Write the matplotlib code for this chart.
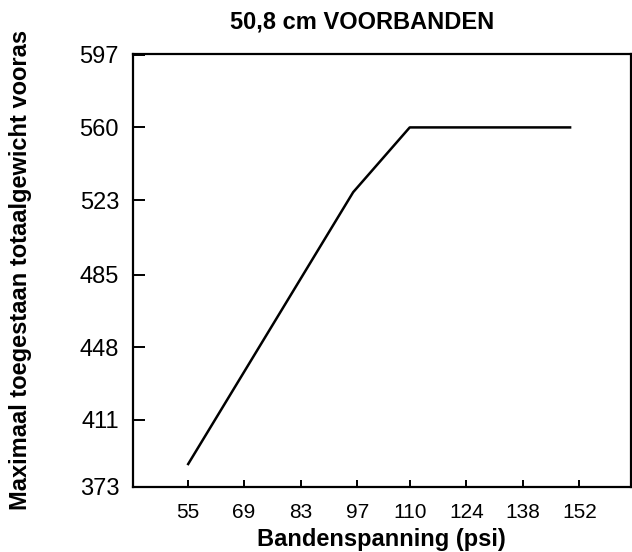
import matplotlib
matplotlib.use("Agg")
import matplotlib.pyplot as plt

# tyre pressure (psi) vs max allowed front axle weight
pressure = [55, 96, 110, 150]
max_weight = [388, 527, 560, 560]

x_ticks = [55, 69, 83, 97, 110, 124, 138, 152]
y_ticks = [377, 411, 448, 485, 523, 560, 597]
y_tick_labels = ["373", "411", "448", "485", "523", "560", "597"]

plt.rcParams["font.family"] = ["Liberation Sans", "DejaVu Sans"]

fig = plt.figure(figsize=(6.32, 5.52), dpi=100)
ax = fig.add_axes([0.2104, 0.1183, 0.998 - 0.2104, 0.9022 - 0.1183])

ax.plot(pressure, max_weight, color="black", linewidth=1.8, solid_capstyle="butt")

ax.set_xlim(41.5, 164.7)
ax.set_ylim(377, 597.4)
ax.set_xticks(x_ticks)
ax.set_xticklabels([str(v) for v in x_ticks])
ax.set_yticks(y_ticks)
ax.set_yticklabels(y_tick_labels)

for s in ax.spines.values():
    s.set_linewidth(1.6)

ax.tick_params(axis="x", direction="in", length=5, width=1.4, labelsize=15, pad=12)
ax.tick_params(axis="y", direction="in", length=8.5, width=1.4, labelsize=17, pad=10)

ax.set_xlabel("Bandenspanning (psi)", fontsize=17, fontweight="bold", labelpad=4)
ax.set_ylabel("Maximaal toegestaan totaalgewicht vooras", fontsize=17, fontweight="bold")
ax.yaxis.set_label_coords(-0.203, 0.5)

fig.text(362 / 632, 1 - 22 / 552, "50,8 cm VOORBANDEN", ha="center", va="center",
         fontsize=17, fontweight="bold")

fig.savefig("out.png", dpi=100)
plt.close(fig)
